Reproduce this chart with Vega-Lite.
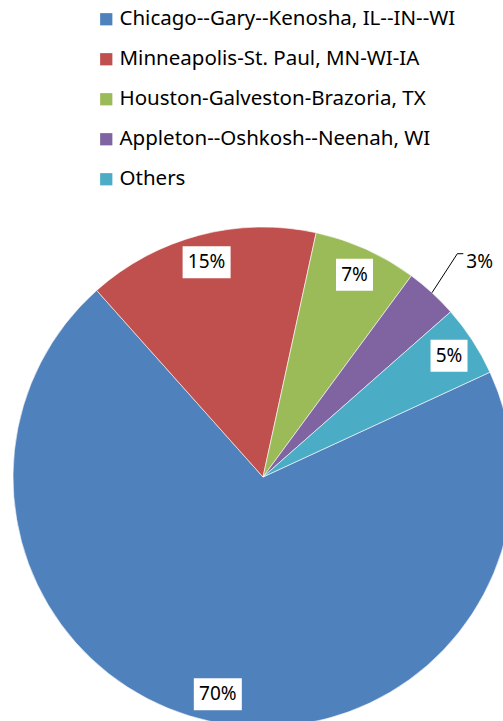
{
  "$schema": "https://vega.github.io/schema/vega-lite/v6.json",
  "autosize": {"type": "none"},
  "width": 480,
  "height": 488,
  "padding": {"left": 23, "top": 233, "right": 0, "bottom": 0},
  "background": "white",
  "config": {
    "view": {"stroke": null},
    "font": "Noto Sans"
  },
  "data": {
    "values": [
      {"area": "Chicago--Gary--Kenosha, IL--IN--WI", "value": 70.3, "idx": 1},
      {"area": "Minneapolis-St. Paul, MN-WI-IA", "value": 15.0, "idx": 2},
      {"area": "Houston-Galveston-Brazoria, TX", "value": 6.7, "idx": 3},
      {"area": "Appleton--Oshkosh--Neenah, WI", "value": 3.4, "idx": 4},
      {"area": "Others", "value": 4.6, "idx": 5}
    ]
  },
  "transform": [
    {"joinaggregate": [{"op": "sum", "field": "value", "as": "total"}]},
    {"window": [{"op": "sum", "field": "value", "as": "cum"}], "sort": [{"field": "idx"}], "frame": [null, 0]},
    {"calculate": "datum.value / datum.total", "as": "pct"},
    {"calculate": "1.138 + 2 * PI * (datum.cum - datum.value / 2) / datum.total", "as": "mid"},
    {"calculate": "222 * sin(datum.mid)", "as": "lx"},
    {"calculate": "222 * cos(datum.mid)", "as": "ly"}
  ],
  "layer": [
    {
      "mark": {"type": "arc", "outerRadius": 250, "stroke": "white", "strokeWidth": 0.6},
      "encoding": {
        "theta": {"field": "value", "type": "quantitative", "stack": true, "scale": {"range": [1.138, 7.4212]}},
        "order": {"field": "idx", "type": "quantitative"},
        "color": {
          "field": "area",
          "type": "nominal",
          "sort": ["Chicago--Gary--Kenosha, IL--IN--WI", "Minneapolis-St. Paul, MN-WI-IA", "Houston-Galveston-Brazoria, TX", "Appleton--Oshkosh--Neenah, WI", "Others"],
          "scale": {
            "domain": ["Chicago--Gary--Kenosha, IL--IN--WI", "Minneapolis-St. Paul, MN-WI-IA", "Houston-Galveston-Brazoria, TX", "Appleton--Oshkosh--Neenah, WI", "Others"],
            "range": ["#4F81BD", "#C0504D", "#9BBB59", "#8064A2", "#4BACC6"]
          },
          "legend": {
            "title": null,
            "orient": "none",
            "legendX": 73,
            "legendY": -224,
            "symbolType": "square",
            "symbolSize": 150,
            "symbolStrokeWidth": 0,
            "labelFontSize": 20.5,
            "labelFont": "Noto Sans",
            "labelColor": "#000000",
            "labelOffset": 3,
            "rowPadding": 19,
            "labelLimit": 450,
            "padding": 0
          }
        }
      }
    },
    {
      "transform": [
        {"filter": "datum.idx != 4"},
        {"calculate": "datum.pct >= 0.095 ? 24 : 18.5", "as": "hw"},
        {"calculate": "datum.lx - datum.hw", "as": "bx1"},
        {"calculate": "datum.lx + datum.hw", "as": "bx2"},
        {"calculate": "datum.ly - 16", "as": "by1"},
        {"calculate": "datum.ly + 16", "as": "by2"}
      ],
      "mark": {"type": "rect", "color": "white"},
      "encoding": {
        "x": {"field": "bx1", "type": "quantitative", "scale": {"domain": [-240, 240], "nice": false, "zero": false}, "axis": null},
        "x2": {"field": "bx2"},
        "y": {"field": "by1", "type": "quantitative", "scale": {"domain": [-244, 244], "nice": false, "zero": false}, "axis": null},
        "y2": {"field": "by2"}
      }
    },
    {
      "transform": [{"filter": "datum.idx != 4"}],
      "mark": {"type": "text", "fontSize": 19, "font": "Noto Sans", "color": "#000000", "align": "center", "baseline": "middle"},
      "encoding": {
        "x": {"field": "lx", "type": "quantitative"},
        "y": {"field": "ly", "type": "quantitative"},
        "text": {"field": "pct", "type": "quantitative", "format": ".0%"}
      }
    },
    {
      "transform": [
        {"filter": "datum.idx == 4"},
        {"calculate": "250 * sin(datum.mid)", "as": "ax"},
        {"calculate": "250 * cos(datum.mid)", "as": "ay"},
        {"calculate": "296 * sin(datum.mid - 0.026)", "as": "ex"},
        {"calculate": "296 * cos(datum.mid - 0.026)", "as": "ey"}
      ],
      "layer": [
        {
          "mark": {"type": "rule", "color": "#000000", "strokeWidth": 1},
          "encoding": {
            "x": {"field": "ax", "type": "quantitative"},
            "y": {"field": "ay", "type": "quantitative"},
            "x2": {"field": "ex"},
            "y2": {"field": "ey"}
          }
        },
        {
          "transform": [{"calculate": "datum.ex + 6", "as": "hx"}],
          "mark": {"type": "rule", "color": "#000000", "strokeWidth": 1},
          "encoding": {
            "x": {"field": "ex", "type": "quantitative"},
            "y": {"field": "ey", "type": "quantitative"},
            "x2": {"field": "hx"}
          }
        },
        {
          "transform": [
            {"calculate": "datum.ex + 9", "as": "tx"},
            {"calculate": "datum.ey - 8", "as": "ty"}
          ],
          "mark": {"type": "text", "fontSize": 19, "font": "Noto Sans", "color": "#000000", "align": "left", "baseline": "middle"},
          "encoding": {
            "x": {"field": "tx", "type": "quantitative"},
            "y": {"field": "ty", "type": "quantitative"},
            "text": {"field": "pct", "type": "quantitative", "format": ".0%"}
          }
        }
      ]
    }
  ]
}
